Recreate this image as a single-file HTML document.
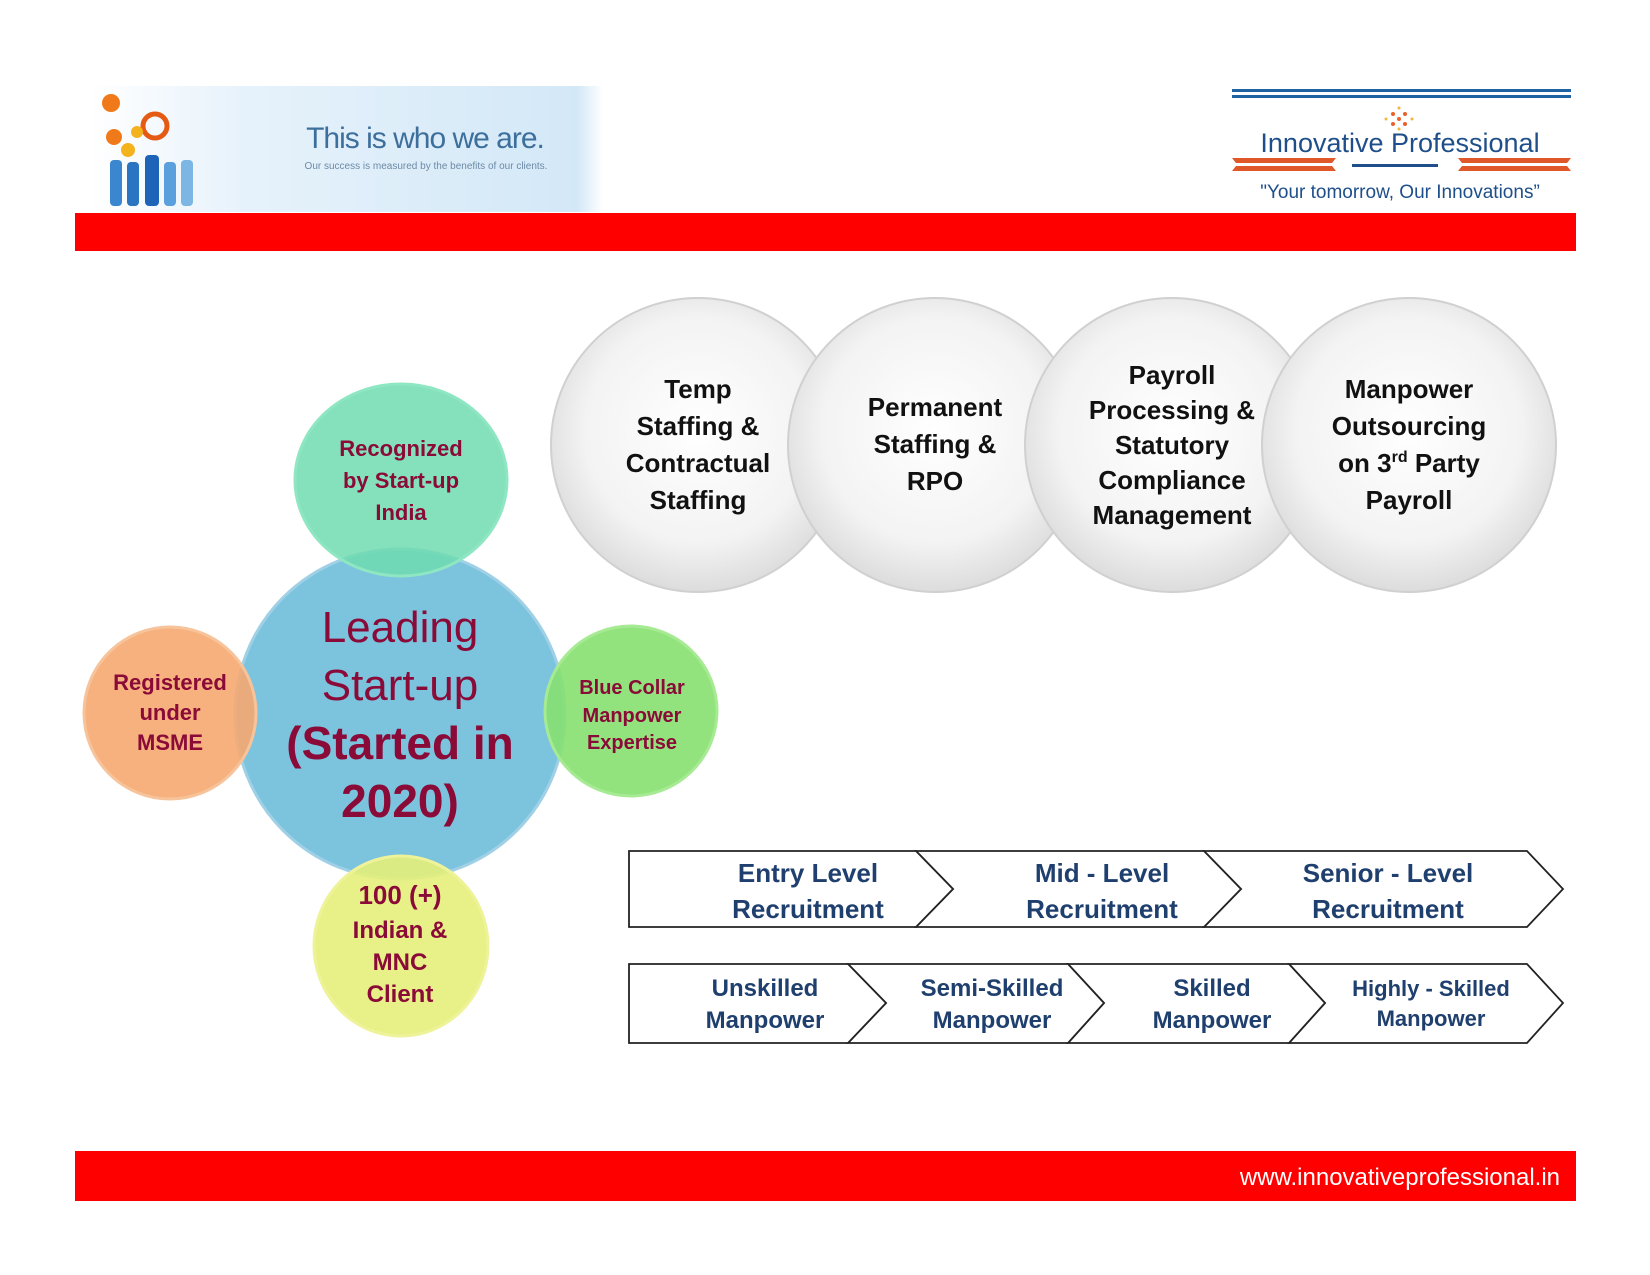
<!DOCTYPE html>
<html><head><meta charset="utf-8"><style>
html,body{margin:0;padding:0;background:#fff;}
svg{display:block;}
</style></head><body>
<svg width="1650" height="1275" viewBox="0 0 1650 1275" xmlns="http://www.w3.org/2000/svg">
<defs>
<linearGradient id="hdr" x1="0" y1="0" x2="1" y2="0">
<stop offset="0" stop-color="#ffffff"/><stop offset="0.3" stop-color="#e6f2fb"/><stop offset="0.95" stop-color="#d3e8f7"/><stop offset="1" stop-color="#ffffff"/>
</linearGradient>
<radialGradient id="grey" cx="0.5" cy="0.45" r="0.55">
<stop offset="0" stop-color="#ffffff"/><stop offset="0.7" stop-color="#f3f3f3"/><stop offset="1" stop-color="#dcdcdc"/>
</radialGradient>
</defs>
<rect x="90" y="86" width="513" height="126" fill="url(#hdr)"/>
<g fill="#f07a1a">
<circle cx="111" cy="103" r="9"/><circle cx="155" cy="126" r="12" fill="none" stroke="#e55b14" stroke-width="5"/>
<circle cx="114" cy="137" r="8"/><circle cx="128" cy="150" r="7" fill="#f4b31c"/><circle cx="137" cy="132" r="6" fill="#f4b31c"/>
</g>
<g fill="#3a86cf">
<rect x="110" y="160" width="12" height="46" rx="4"/><rect x="127" y="162" width="12" height="44" rx="4" fill="#2b74c2"/>
<rect x="145" y="155" width="14" height="51" rx="4" fill="#1d64b8"/><rect x="164" y="162" width="12" height="44" rx="4" fill="#5aa0dc"/>
<rect x="181" y="160" width="12" height="46" rx="4" fill="#7bb6e4"/>
</g>
<text x="425" y="148" font-family="Liberation Sans, sans-serif" font-size="30" fill="#3d6f9c" text-anchor="middle" letter-spacing="-1">This is who we are.</text>
<text x="426" y="169" font-family="Liberation Sans, sans-serif" font-size="10" fill="#6d8aa6" text-anchor="middle">Our success is measured by the benefits of our clients.</text>
<rect x="1232" y="89" width="339" height="3" fill="#1f63a3"/>
<rect x="1232" y="95" width="339" height="3" fill="#1f63a3"/>
<g fill="#e8602b"><circle cx="1393" cy="114" r="2"/><circle cx="1399" cy="119" r="2"/><circle cx="1405" cy="124" r="2"/><circle cx="1405" cy="114" r="2"/><circle cx="1393" cy="124" r="2"/><circle cx="1386" cy="119" r="1.5" fill="#f2b63c"/><circle cx="1412" cy="119" r="1.5" fill="#f2b63c"/><circle cx="1399" cy="108" r="1.5" fill="#f2b63c"/><circle cx="1399" cy="129" r="1.5" fill="#f2b63c"/></g>
<text x="1400" y="152" font-family="Liberation Sans, sans-serif" font-size="27" fill="#1e4f8a" text-anchor="middle">Innovative Professional</text>
<polygon points="1232,158 1336,158 1332,163 1236,163" fill="#e0572a"/>
<polygon points="1236,166 1332,166 1336,171 1232,171" fill="#e0572a"/>
<polygon points="1458,158 1571,158 1567,163 1462,163" fill="#e0572a"/>
<polygon points="1462,166 1567,166 1571,171 1458,171" fill="#e0572a"/>
<rect x="1352" y="164" width="86" height="3" fill="#1e4f8a"/>
<text x="1400" y="198" font-family="Liberation Sans, sans-serif" font-size="19" fill="#1e4f8a" text-anchor="middle">"Your tomorrow, Our Innovations”</text>
<rect x="75" y="213" width="1501" height="38" fill="#ff0000"/>
<rect x="75" y="1151" width="1501" height="50" fill="#ff0000"/>
<text x="1560" y="1185" font-family="Liberation Sans, sans-serif" font-size="24" fill="#fff" text-anchor="end">www.innovativeprofessional.in</text>
<g stroke="#d0d0d0" stroke-width="2" fill="url(#grey)">
<circle cx="698" cy="445" r="147"/><circle cx="935" cy="445" r="147"/><circle cx="1172" cy="445" r="147"/><circle cx="1409" cy="445" r="147"/>
</g>
<g font-family="Liberation Sans, sans-serif" font-weight="bold" font-size="26" fill="#111" text-anchor="middle">
<text x="698" y="398">Temp</text><text x="698" y="435">Staffing &amp;</text><text x="698" y="472">Contractual</text><text x="698" y="509">Staffing</text>
<text x="935" y="416">Permanent</text><text x="935" y="453">Staffing &amp;</text><text x="935" y="490">RPO</text>
<text x="1172" y="384">Payroll</text><text x="1172" y="419">Processing &amp;</text><text x="1172" y="454">Statutory</text><text x="1172" y="489">Compliance</text><text x="1172" y="524">Management</text>
<text x="1409" y="398">Manpower</text><text x="1409" y="435">Outsourcing</text><text x="1409" y="472">on 3<tspan font-size="16" dy="-10">rd</tspan><tspan dy="10"> Party</tspan></text><text x="1409" y="509">Payroll</text>
</g>
<circle cx="400" cy="714" r="165" fill="#7cc3de" stroke="#9fd0e6" stroke-width="3"/>
<ellipse cx="401" cy="480" rx="106" ry="96" fill="#6fdcb0" fill-opacity="0.85" stroke="#8fe6c2" stroke-width="3"/>
<ellipse cx="170" cy="713" rx="86" ry="86" fill="#f5a870" fill-opacity="0.9" stroke="#f7c39a" stroke-width="3"/>
<ellipse cx="631" cy="711" rx="86" ry="85" fill="#86e070" fill-opacity="0.9" stroke="#a6ea93" stroke-width="3"/>
<ellipse cx="401" cy="946" rx="87" ry="90" fill="#e6f07a" fill-opacity="0.9" stroke="#eef39a" stroke-width="3"/>
<g font-family="Liberation Sans, sans-serif" fill="#8a0a38" text-anchor="middle">
<text x="400" y="642" font-size="44">Leading</text>
<text x="400" y="700" font-size="44">Start-up</text>
<text x="400" y="759" font-size="46" font-weight="bold">(Started in</text>
<text x="400" y="817" font-size="46" font-weight="bold">2020)</text>
<g font-weight="bold" font-size="22">
<text x="401" y="456">Recognized</text><text x="401" y="488">by Start-up</text><text x="401" y="520">India</text>
<text x="170" y="690">Registered</text><text x="170" y="720">under</text><text x="170" y="750">MSME</text>
<text x="400" y="904" font-size="26">100 (+)</text><text x="400" y="938" font-size="24">Indian &amp;</text><text x="400" y="970" font-size="24">MNC</text><text x="400" y="1002" font-size="24">Client</text>
</g>
<g font-weight="bold" font-size="20">
<text x="632" y="694">Blue Collar</text><text x="632" y="722">Manpower</text><text x="632" y="749">Expertise</text>
</g>
</g>
<g fill="#fff" stroke="#222" stroke-width="1.8">
<polygon points="1204,851 1527,851 1563,889 1527,927 1204,927 1241,889"/>
<polygon points="916,851 1204,851 1241,889 1204,927 916,927 953,889"/>
<polygon points="629,851 916,851 953,889 916,927 629,927"/>
<polygon points="1289,964 1527,964 1563,1003 1527,1043 1289,1043 1325,1003"/>
<polygon points="1068,964 1289,964 1325,1003 1289,1043 1068,1043 1104,1003"/>
<polygon points="848,964 1068,964 1104,1003 1068,1043 848,1043 886,1003"/>
<polygon points="629,964 848,964 886,1003 848,1043 629,1043"/>
</g>
<g font-family="Liberation Sans, sans-serif" font-weight="bold" fill="#1f3f6e" text-anchor="middle" font-size="26">
<text x="808" y="882">Entry Level</text><text x="808" y="918">Recruitment</text>
<text x="1102" y="882">Mid - Level</text><text x="1102" y="918">Recruitment</text>
<text x="1388" y="882">Senior - Level</text><text x="1388" y="918">Recruitment</text>
<g font-size="24">
<text x="765" y="996">Unskilled</text><text x="765" y="1028">Manpower</text>
<text x="992" y="996">Semi-Skilled</text><text x="992" y="1028">Manpower</text>
<text x="1212" y="996">Skilled</text><text x="1212" y="1028">Manpower</text>
</g>
<g font-size="22">
<text x="1431" y="996">Highly - Skilled</text><text x="1431" y="1026">Manpower</text>
</g>
</g>
</svg>
</body></html>
